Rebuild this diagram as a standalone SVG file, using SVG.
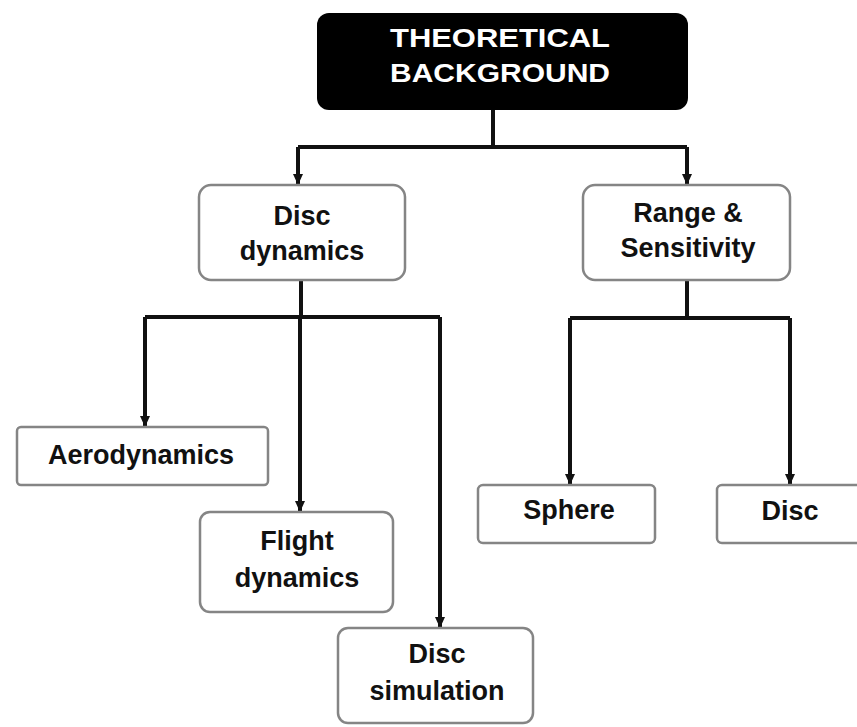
<svg xmlns="http://www.w3.org/2000/svg" width="857" height="727" viewBox="0 0 857 727">
<style>
.box{fill:#fff;stroke:#858585;stroke-width:2.5}
.t{font-family:"Liberation Sans",Arial,sans-serif;font-weight:bold;font-size:27px;fill:#111;text-anchor:middle}
.w{fill:#fff;font-size:26px}
.c{fill:none;stroke:#111;stroke-width:4}
</style>
<defs>
<marker id="ah" markerWidth="12" markerHeight="12" refX="10" refY="6" orient="auto" markerUnits="userSpaceOnUse" viewBox="0 0 12 12">
<path d="M0,1 L11,6 L0,11 Z" fill="#111"/>
</marker>
</defs>
<rect width="857" height="727" fill="#fff"/>
<g id="connectors">
<path class="c" d="M493,110 V147"/>
<path class="c" d="M298,147 H687"/>
<path class="c" d="M298,147 V184" marker-end="url(#ah)"/>
<path class="c" d="M687,147 V184" marker-end="url(#ah)"/>
<path class="c" d="M301,280 V317"/>
<path class="c" d="M145,317 H440"/>
<path class="c" d="M145,317 V426" marker-end="url(#ah)"/>
<path class="c" d="M300,317 V511" marker-end="url(#ah)"/>
<path class="c" d="M440,317 V627" marker-end="url(#ah)"/>
<path class="c" d="M687,280 V318"/>
<path class="c" d="M570,318 H790"/>
<path class="c" d="M570,318 V484" marker-end="url(#ah)"/>
<path class="c" d="M790,318 V484" marker-end="url(#ah)"/>
</g>
<g id="theoretical-background">
<rect x="317" y="13" width="371" height="97" rx="12" fill="#000"/>
<text class="t w" x="500" y="47" textLength="220" lengthAdjust="spacingAndGlyphs">THEORETICAL</text>
<text class="t w" x="500" y="82" textLength="220" lengthAdjust="spacingAndGlyphs">BACKGROUND</text>
</g>
<g id="disc-dynamics">
<rect class="box" x="199" y="185" width="206" height="95" rx="12"/>
<text class="t" x="302" y="225">Disc</text>
<text class="t" x="302" y="260">dynamics</text>
</g>
<g id="range-sensitivity">
<rect class="box" x="583" y="185" width="207" height="95" rx="12"/>
<text class="t" x="688" y="222">Range &amp;</text>
<text class="t" x="688" y="257">Sensitivity</text>
</g>
<g id="aerodynamics">
<rect class="box" x="17" y="427" width="251" height="58" rx="4"/>
<text class="t" x="141" y="464">Aerodynamics</text>
</g>
<g id="flight-dynamics">
<rect class="box" x="200" y="512" width="193" height="100" rx="10"/>
<text class="t" x="297" y="550">Flight</text>
<text class="t" x="297" y="587">dynamics</text>
</g>
<g id="disc-simulation">
<rect class="box" x="338" y="628" width="195" height="95" rx="10"/>
<text class="t" x="437" y="663">Disc</text>
<text class="t" x="437" y="700">simulation</text>
</g>
<g id="sphere">
<rect class="box" x="478" y="485" width="177" height="58" rx="5"/>
<text class="t" x="569" y="519">Sphere</text>
</g>
<g id="disc">
<rect class="box" x="717" y="485" width="150" height="58" rx="5"/>
<text class="t" x="790" y="520">Disc</text>
</g>
</svg>
